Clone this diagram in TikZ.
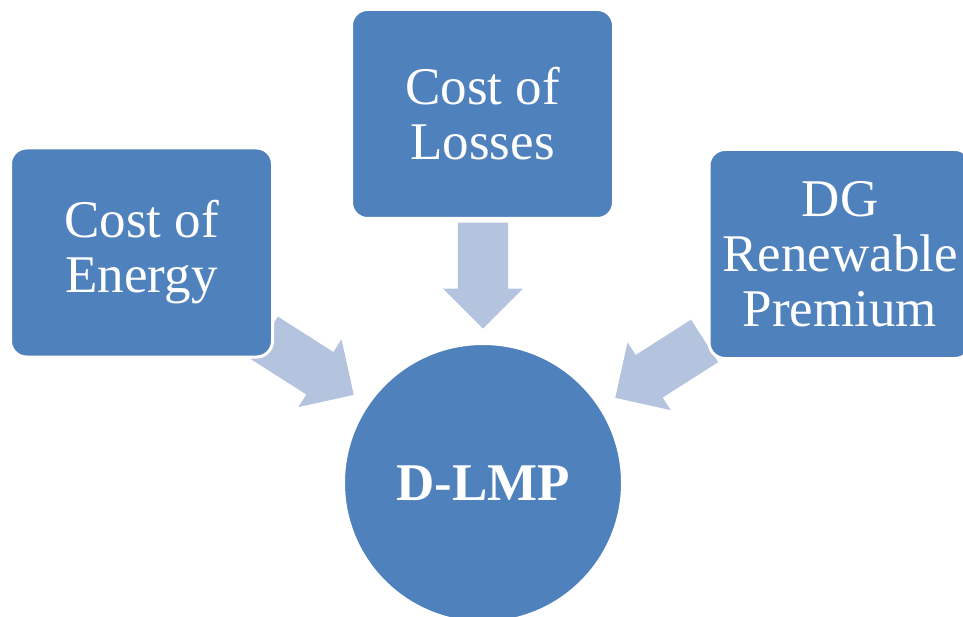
\documentclass[tikz,border=0pt]{standalone}
\usepackage{fontspec}
\setmainfont{Liberation Serif}
\usetikzlibrary{shapes.arrows}
\definecolor{boxblue}{RGB}{79,129,189}
\definecolor{arrowblue}{RGB}{180,195,222}

\begin{document}
\begin{tikzpicture}[x=1pt,y=-1pt,
    costbox/.style={rectangle,rounded corners=16pt,fill=boxblue,draw=white,line width=3pt,
        minimum width=262pt,minimum height=209pt,align=center,text=white,
        font=\fontsize{53}{55}\selectfont},
    blockarrow/.style={single arrow,fill=arrowblue,inner xsep=0pt,inner ysep=25pt,
        single arrow head extend=15pt,minimum height=106pt,anchor=tip}]
    \useasboundingbox (0,0) rectangle (963,617);

    % the arrows sit below the boxes
    \node [blockarrow,rotate=-90] (arrlosses) at (483,329) {};
    \node [blockarrow,rotate=-32.5] (arrenergy) at (354,395) {};
    \node [blockarrow,rotate=-147.5] (arrpremium) at (615,398) {};

    \node [costbox] (energy) at (141.5,252.5) {Cost of\\Energy};
    \node [costbox] (losses) at (482.5,114) {Cost of\\Losses};
    \node [costbox] (premium) at (840,254) {DG\\Renewable\\Premium};

    \node [circle,fill=boxblue,draw=white,line width=3pt,minimum size=279pt,text=white,
        font=\bfseries\fontsize{53}{55}\selectfont] (dlmp) at (483,483) {D-LMP};
\end{tikzpicture}
\end{document}
